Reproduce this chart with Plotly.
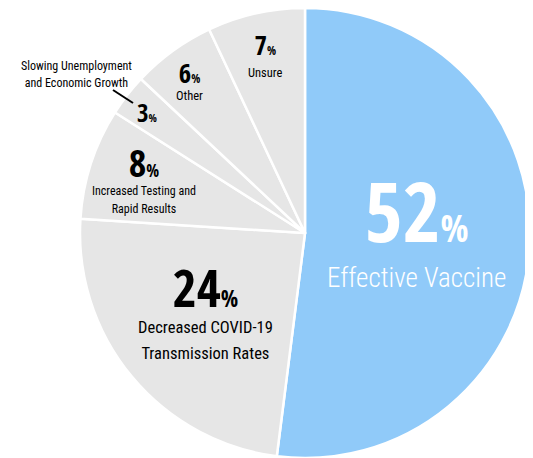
import plotly.graph_objects as go

categories = ["Effective Vaccine", "Decreased COVID-19<br>Transmission Rates",
              "Increased Testing and<br>Rapid Results",
              "Slowing Unemployment<br>and Economic Growth", "Other", "Unsure"]
values = [52, 24, 8, 3, 6, 7]

W, H = 533, 458
OFF = 8  # page body margin in the browser
colors = ["#90CAF9", "#E6E6E6", "#E6E6E6", "#E6E6E6", "#E6E6E6", "#E6E6E6"]
NUM_FONT = "Open Sans Condensed, Roboto Condensed, sans-serif"
LBL_FONT = "Roboto Condensed, Open Sans, sans-serif"

cx, cy, r = 305 - OFF, 233 - OFF, 225
fig = go.Figure(go.Pie(
    labels=categories, values=values, sort=False, direction="clockwise", rotation=0,
    marker=dict(colors=colors, line=dict(color="white", width=2.5)),
    textinfo="none", hoverinfo="label+percent", showlegend=False,
    domain=dict(x=[max(0, (cx - r) / W), min(1, (cx + r) / W)],
                y=[max(0, 1 - (cy + r) / H), min(1, 1 - (cy - r) / H)]),
))

def P(x, y):
    return (x - OFF) / W, 1 - (y - OFF) / H

def num_html(v, n):
    st = f"font-family:{NUM_FONT};font-weight:bold;"
    return (f"<span style='{st}font-size:{n}px'>{v}</span>"
            f"<span style='{st}font-size:{round(n * 0.45)}px'>%</span>")

def lbl_html(text, s, w):
    st = f"font-family:{LBL_FONT};font-size:{s}px;font-weight:{w}"
    return "<br>".join(f"<span style='{st}'>{ln}</span>" for ln in text.split("<br>"))

# group: (centre px, number size, label size, label weight, line gap px, colour)
groups = {
    0: ((416.5, 224), 82, 27, 300, 45, "white"),
    1: ((205.5, 307), 52, 16.5, 400, 26, "black"),
    2: ((144, 176), 38, 12, 400, 18, "black"),
    4: ((189.5, 78.5), 27, 12.5, 400, 17, "black"),
    5: ((265.5, 53), 27, 12.5, 400, 22, "black"),
}

ann = []
for i, (cat, v) in enumerate(zip(categories, values)):
    if i in groups:
        (px, py), n, s, w, gap, col = groups[i]
        x, y = P(px, py)
        ann.append(dict(x=x, y=y, xref="paper", yref="paper", showarrow=False,
                        xanchor="center", yanchor="middle", align="center",
                        text=num_html(v, n) + "<br>" + lbl_html(cat, s, w),
                        font=dict(family=LBL_FONT, size=gap / 1.3, color=col)))
    else:
        # small slice: number inside, label outside with leader line
        x, y = P(147, 112.3)
        ann.append(dict(x=x, y=y, xref="paper", yref="paper", showarrow=False,
                        xanchor="center", yanchor="middle", text=num_html(v, 25),
                        font=dict(family=NUM_FONT, size=25, color="black")))
        x, y = P(76.5, 74.4)
        ann.append(dict(x=x, y=y, xref="paper", yref="paper", showarrow=False,
                        xanchor="center", yanchor="middle", align="center",
                        text=lbl_html(cat, 12, 400),
                        font=dict(family=LBL_FONT, size=17 / 1.3, color="black")))

x0, y0 = P(113, 90)
x1, y1 = P(133, 103)
fig.update_layout(
    width=W, height=H, margin=dict(l=0, r=0, t=0, b=0),
    paper_bgcolor="white", plot_bgcolor="white", annotations=ann,
    shapes=[dict(type="line", xref="paper", yref="paper",
                 x0=x0, y0=y0, x1=x1, y1=y1, line=dict(color="black", width=2))],
)
fig.write_html("out.html")
